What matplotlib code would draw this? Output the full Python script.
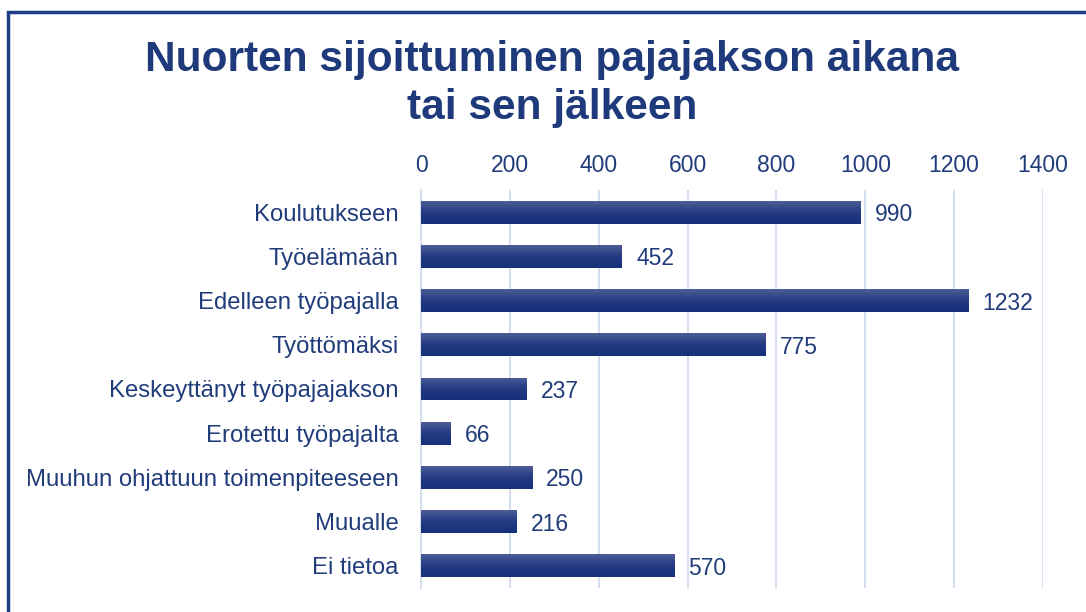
import numpy as np
import matplotlib
matplotlib.use("Agg")
import matplotlib.pyplot as plt
from matplotlib.patches import Rectangle

categories = ["Koulutukseen", "Työelämään", "Edelleen työpajalla", "Työttömäksi",
              "Keskeyttänyt työpajajakson", "Erotettu työpajalta",
              "Muuhun ohjattuun toimenpiteeseen", "Muualle", "Ei tietoa"]
values = [990, 452, 1232, 775, 237, 66, 250, 216, 570]
ticks = [0, 200, 400, 600, 800, 1000, 1200, 1400]

plt.rcParams["font.family"] = ["Liberation Sans", "DejaVu Sans"]
text_col = "#213c7a"

fig = plt.figure(figsize=(10.86, 6.12), dpi=100)
ax = fig.add_axes([421 / 1086, 1 - 588 / 612, (1043 - 421) / 1086, (588 - 190) / 612])

y = np.arange(len(categories))
bars = ax.barh(y, values, height=0.52, color="#1f3378", zorder=2)

# vertical gradient on each bar, lighter on top
grad = np.linspace(0, 1, 50).reshape(-1, 1)
cmap = matplotlib.colors.LinearSegmentedColormap.from_list("g", ["#4d5c96", "#243a82", "#16307a"])
for b in bars:
    x0, y0 = b.get_x(), b.get_y()
    w, h = b.get_width(), b.get_height()
    im = ax.imshow(grad, cmap=cmap, aspect="auto", extent=(x0, x0 + w, y0 + h, y0),
                   zorder=3, interpolation="bilinear")
    im.set_clip_path(b)

for yi, v in zip(y, values):
    ax.text(v + 32, yi, str(v), va="center_baseline", ha="left", fontsize=16.5, color=text_col)

ax.set_xlim(0, 1400)
ax.set_ylim(8.5, -0.5)
ax.set_xticks(ticks)
ax.set_yticks(y)
ax.set_yticklabels(categories)
ax.xaxis.tick_top()
ax.tick_params(axis="x", length=0, pad=9.5, labelsize=16.5, labelcolor=text_col)
ax.tick_params(axis="y", length=0, pad=16, labelsize=17.2, labelcolor=text_col)
ax.grid(axis="x", color="#d6dff2", linewidth=1.5, zorder=0)
for s in ["top", "right", "bottom"]:
    ax.spines[s].set_visible(False)
ax.spines["left"].set_color("#d6dff2")
ax.spines["left"].set_linewidth(1.5)
ax.set_axisbelow(True)

fig.text(552 / 1086, 1 - 84 / 612, "Nuorten sijoittuminen pajajakson aikana\ntai sen jälkeen",
         ha="center", va="center", fontsize=30.5, fontweight="bold", color="#1f3a7a",
         linespacing=1.25)

fig.patches.append(Rectangle((7.5 / 1086, -0.05), 1.2, 1 - 11.5 / 612 + 0.05,
                             transform=fig.transFigure, fill=False,
                             edgecolor="#1f3f84", linewidth=2.5))

fig.savefig("out.png", dpi=100)
